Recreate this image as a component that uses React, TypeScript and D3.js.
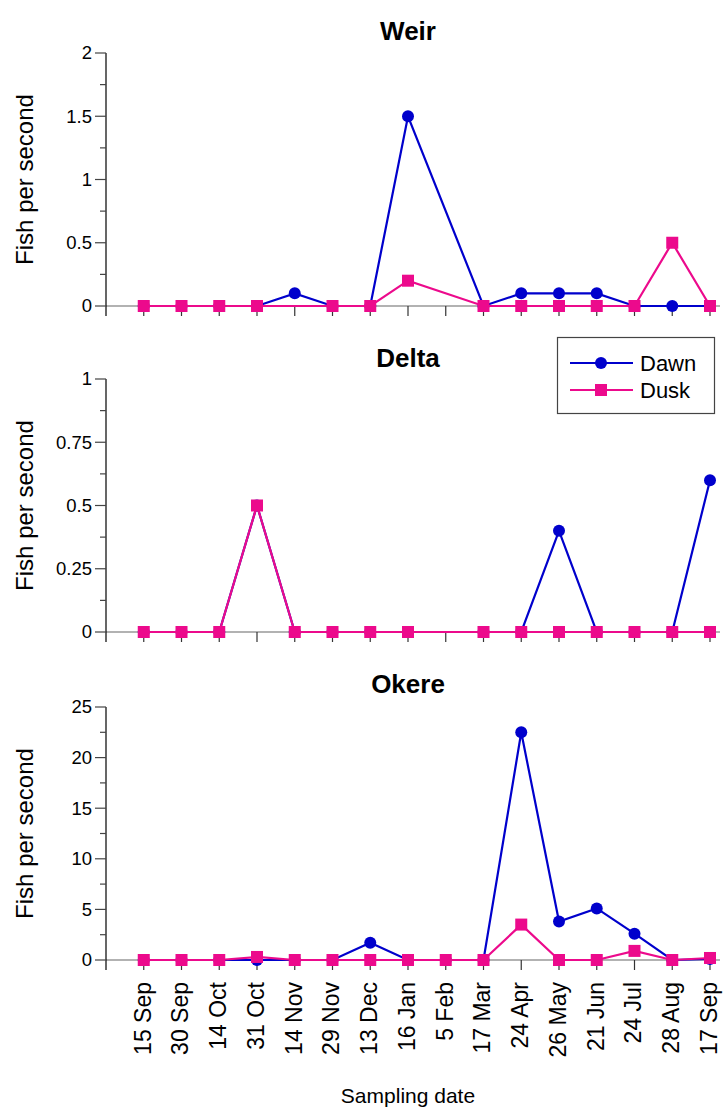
import React from "react";
import * as d3 from "d3";

const categories = ["15 Sep","30 Sep","14 Oct","31 Oct","14 Nov","29 Nov","13 Dec","16 Jan","5 Feb","17 Mar","24 Apr","26 May","21 Jun","24 Jul","28 Aug","17 Sep"];

const weirDawn: (number|null)[] = [0,0,0,0,0.1,0,0,1.5,null,0,0.1,0.1,0.1,0,0,0];
const weirDusk: (number|null)[] = [0,0,0,0,null,0,0,0.2,null,0,0,0,0,0,0.5,0];
const deltaDawn: (number|null)[] = [0,0,0,0.5,0,0,0,0,null,0,0,0.4,0,0,0,0.6];
const deltaDusk: (number|null)[] = [0,0,0,0.5,0,0,0,0,null,0,0,0,0,0,0,0];
const okereDawn: (number|null)[] = [0,0,0,0,0,0,1.7,0,0,0,22.5,3.8,5.1,2.6,0,0.1];
const okereDusk: (number|null)[] = [0,0,0,0.3,0,0,0,0,0,0,3.5,0,0,0.9,0,0.2];

const weirTicks = [0,0.5,1,1.5,2];
const deltaTicks = [0,0.25,0.5,0.75,1];
const okereTicks = [0,5,10,15,20,25];

const seriesNames = ["Dawn","Dusk"];
const BLUE = "#0000CC";
const PINK = "#EC0A8C";
const FONT = "'Liberation Sans', Arial, Helvetica, sans-serif";

const panels = [
  { title: "Weir", top: 53, titleY: 40, max: 2, ticks: weirTicks, minorStep: 0.25, dawn: weirDawn, dusk: weirDusk },
  { title: "Delta", top: 379, titleY: 367, max: 1, ticks: deltaTicks, minorStep: 0.125, dawn: deltaDawn, dusk: deltaDusk },
  { title: "Okere", top: 707, titleY: 693, max: 25, ticks: okereTicks, minorStep: 2.5, dawn: okereDawn, dusk: okereDusk },
];

const PANEL_H = 253;
const AXIS_X = 106;
const STEP = 37.75;

const x = d3.scaleLinear().domain([0, categories.length]).range([AXIS_X, AXIS_X + STEP * categories.length]);

function Series({ vals, y, color, shape }: { vals: (number|null)[]; y: d3.ScaleLinear<number, number>; color: string; shape: "circle" | "square" }) {
  const pts = vals.map((v, i) => ({ i, v })).filter(p => p.v !== null) as { i: number; v: number }[];
  const line = d3.line<{ i: number; v: number }>().x(p => x(p.i + 1)).y(p => y(p.v));
  return (
    <g>
      <path d={line(pts) || ""} fill="none" stroke={color} strokeWidth={2.2} />
      {pts.map(p =>
        shape === "circle" ? (
          <circle key={p.i} cx={x(p.i + 1)} cy={y(p.v)} r={6} fill={color} />
        ) : (
          <rect key={p.i} x={x(p.i + 1) - 6} y={y(p.v) - 6} width={12} height={12} fill={color} />
        )
      )}
    </g>
  );
}

function Panel({ p }: { p: typeof panels[number] }) {
  const base = p.top + PANEL_H;
  const y = d3.scaleLinear().domain([0, p.max]).range([base, p.top]);
  const minor = d3.range(0, p.max + 1e-9, p.minorStep).filter(v => !p.ticks.some(t => Math.abs(t - v) < 1e-9));
  const xEnd = x(categories.length);
  return (
    <g>
      <text x={(AXIS_X + xEnd) / 2} y={p.titleY} textAnchor="middle" fontFamily={FONT} fontWeight="bold" fontSize={26}>{p.title}</text>
      <text transform={`translate(33,${(p.top + base) / 2}) rotate(-90)`} textAnchor="middle" fontFamily={FONT} fontSize={24}>Fish per second</text>
      <line x1={AXIS_X} x2={720} y1={base} y2={base} stroke="#666" strokeWidth={1.2} />
      <line x1={AXIS_X} x2={AXIS_X} y1={p.top} y2={base + 10} stroke="#000" strokeWidth={1.2} />
      {p.ticks.map(t => (
        <g key={t}>
          <line x1={AXIS_X - 11} x2={AXIS_X} y1={y(t)} y2={y(t)} stroke="#444" strokeWidth={1.2} />
          <text x={92} y={y(t)} dy="0.35em" textAnchor="end" fontFamily={FONT} fontSize={18.5}>{String(t)}</text>
        </g>
      ))}
      {minor.map(t => (
        <line key={t} x1={AXIS_X - 6} x2={AXIS_X} y1={y(t)} y2={y(t)} stroke="#444" strokeWidth={1.2} />
      ))}
      {d3.range(1, categories.length + 1).map(i => (
        <line key={i} x1={x(i)} x2={x(i)} y1={base} y2={base + 10} stroke="#333" strokeWidth={1.2} />
      ))}
      <Series vals={p.dawn} y={y} color={BLUE} shape="circle" />
      <Series vals={p.dusk} y={y} color={PINK} shape="square" />
    </g>
  );
}

export default function App() {
  return (
    <svg width={723} height={1113} style={{ position: "absolute", left: 0, top: 0, background: "#fff" }}>
      <rect width={723} height={1113} fill="#fff" />
      {panels.map(p => <Panel key={p.title} p={p} />)}
      {categories.map((c, i) => (
        <text key={c + i} transform={`translate(${x(i + 1)},982) rotate(-90)`} textAnchor="end" dy="0.3em" fontFamily={FONT} fontSize={23}>{c}</text>
      ))}
      <text x={(AXIS_X + x(categories.length)) / 2} y={1103} textAnchor="middle" fontFamily={FONT} fontSize={21}>Sampling date</text>
      <g>
        <rect x={557.5} y={337.5} width={157} height={76} fill="#fff" stroke="#444" strokeWidth={1.2} />
        {seriesNames.map((n, k) => {
          const ly = k === 0 ? 363 : 390;
          const col = k === 0 ? BLUE : PINK;
          return (
            <g key={n}>
              <line x1={570} x2={633} y1={ly} y2={ly} stroke={col} strokeWidth={2.2} />
              {k === 0 ? <circle cx={601} cy={ly} r={6} fill={col} /> : <rect x={595} y={ly - 6} width={12} height={12} fill={col} />}
              <text x={640} y={ly} dy="0.35em" fontFamily={FONT} fontSize={22}>{n}</text>
            </g>
          );
        })}
      </g>
    </svg>
  );
}
